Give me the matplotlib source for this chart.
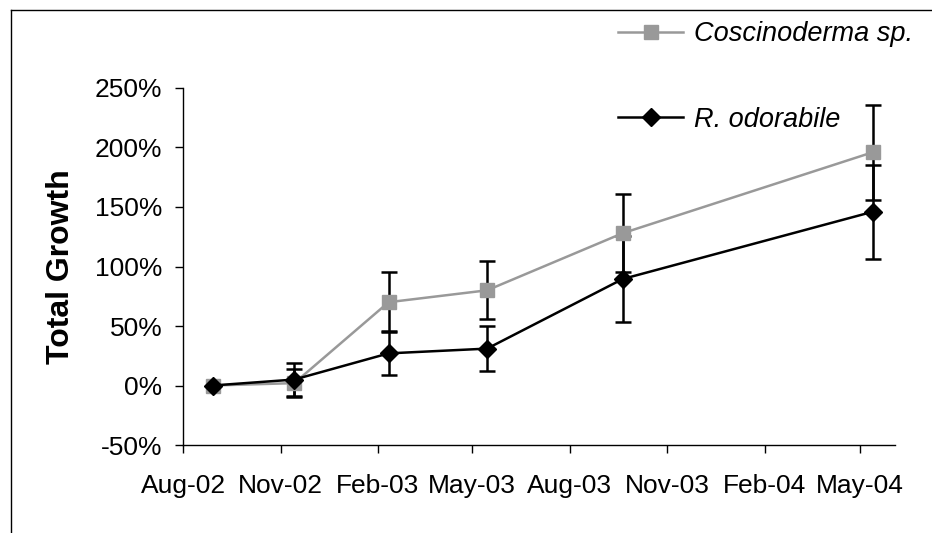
from matplotlib import pyplot as plt
from matplotlib.lines import Line2D
import pandas as pd

plt.rcParams['font.family'] = ['Liberation Sans', 'DejaVu Sans']

# sampling dates
dates = pd.to_datetime(['2002-08-29', '2002-11-14', '2003-02-11',
                        '2003-05-15', '2003-09-20', '2004-05-13'])

cosc = [0, 2, 70, 80, 128, 196]
cosc_err = [0, 12, 25, 24.5, 33, 40]
rodo = [0, 5, 27, 31, 89.5, 146]
rodo_err = [0, 14, 18.5, 19, 36, 39.5]

tick_dates = pd.date_range('2002-08-01', '2004-05-01', freq='3MS')
tick_labels = ['Aug-02', 'Nov-02', 'Feb-03', 'May-03', 'Aug-03', 'Nov-03', 'Feb-04', 'May-04']
y_ticks = [-50, 0, 50, 100, 150, 200, 250]

fig = plt.figure(figsize=(9.32, 5.33), dpi=100)
ax = fig.add_axes([0.1964, 0.1651, 0.7639, 0.6698])

gray = '#999999'
ax.errorbar(dates, cosc, yerr=cosc_err, fmt='none', ecolor='black',
            elinewidth=1.8, capsize=6, capthick=1.8, zorder=2)
ax.errorbar(dates, rodo, yerr=rodo_err, fmt='none', ecolor='black',
            elinewidth=1.8, capsize=6, capthick=1.8, zorder=2)
ax.plot(dates, cosc, color=gray, marker='s', markersize=9.5, linewidth=1.8,
        label='Coscinoderma sp.', zorder=3)
ax.plot(dates, rodo, color='black', marker='D', markersize=9, linewidth=1.8,
        label='R. odorabile', zorder=4)

ax.set_ylim(-50, 250)
ax.set_yticks(y_ticks)
ax.set_yticklabels([str(v) + '%' for v in y_ticks])
ax.set_xlim(pd.Timestamp('2002-08-01'), pd.Timestamp('2004-06-03'))
ax.set_xticks(tick_dates)
ax.set_xticklabels(tick_labels)

for s in ['top', 'right']:
    ax.spines[s].set_visible(False)
for s in ['left', 'bottom']:
    ax.spines[s].set_linewidth(1.0)
ax.tick_params(axis='both', direction='out', length=6, width=1.0, labelsize=19)
ax.tick_params(axis='y', pad=9)
ax.tick_params(axis='x', pad=15)

ax.set_ylabel('Total Growth', fontsize=23, fontweight='bold')
ax.yaxis.set_label_coords(-0.150, 0.5)

leg = ax.legend(loc='upper left', bbox_to_anchor=(0.577, 1.255), frameon=False,
                prop={'style': 'italic', 'size': 19.5}, handlelength=2.4,
                handletextpad=0.4, labelspacing=2.2)

# outer border (only top and left show in the crop)
fig.add_artist(Line2D([11 / 932, 1], [1 - 10 / 533, 1 - 10 / 533], color='black', linewidth=1.0))
fig.add_artist(Line2D([11 / 932, 11 / 932], [0, 1 - 10 / 533], color='black', linewidth=1.0))

plt.savefig('out.png', dpi=100)
